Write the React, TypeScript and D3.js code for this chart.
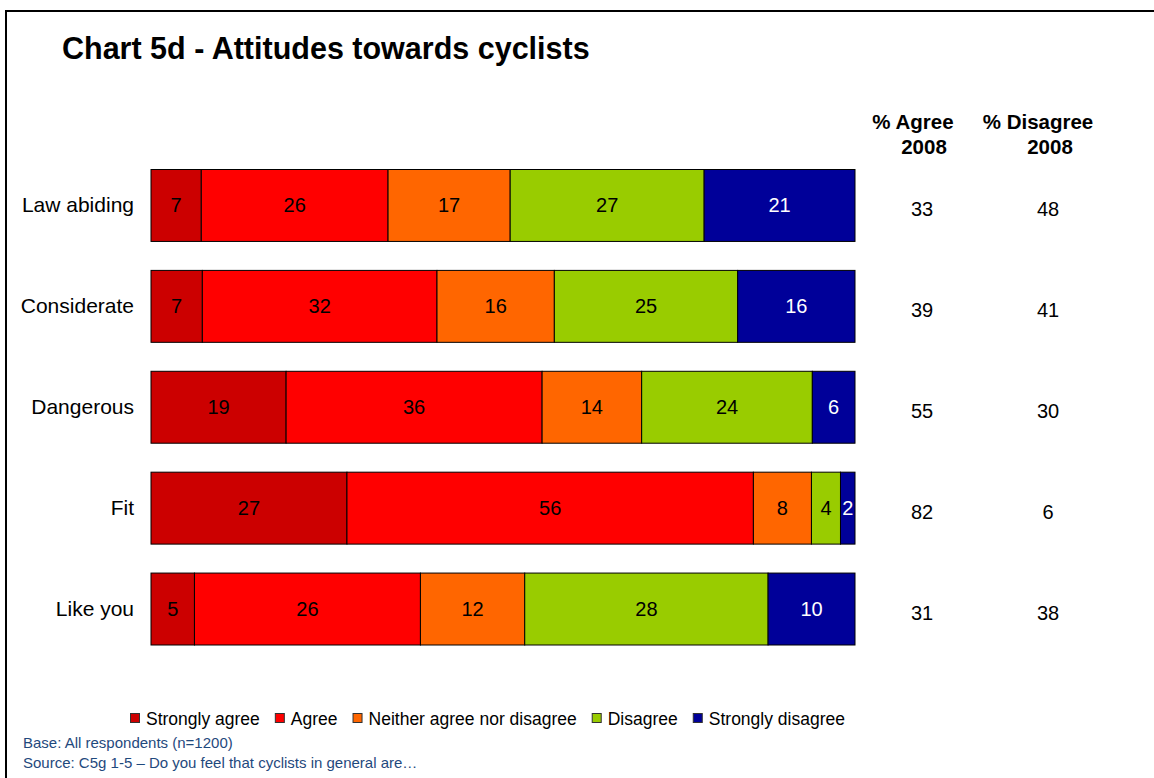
import React, { useEffect, useRef } from "react";
import * as d3 from "d3";

const categories = ["Law abiding", "Considerate", "Dangerous", "Fit", "Like you"];
const seriesNames = ["Strongly agree", "Agree", "Neither agree nor disagree", "Disagree", "Strongly disagree"];
const seriesColors = ["#CC0000", "#FF0000", "#FF6600", "#99CC00", "#000099"];
const labelColors = ["#000", "#000", "#000", "#000", "#fff"];
const stronglyAgree = [7, 7, 19, 27, 5];
const agree = [26, 32, 36, 56, 26];
const neither = [17, 16, 14, 8, 12];
const disagree = [27, 25, 24, 4, 28];
const stronglyDisagree = [21, 16, 6, 2, 10];
const agree2008 = [33, 39, 55, 82, 31];
const disagree2008 = [48, 41, 30, 6, 38];

const W = 1154;
const H = 778;
const FONT = "Liberation Sans, Arial, sans-serif";

export default function App() {
  const ref = useRef<SVGSVGElement | null>(null);

  useEffect(() => {
    const svg = d3.select(ref.current);
    svg.selectAll("*").remove();

    // frame
    svg.append("path")
      .attr("d", `M6,${H} L6,11 L${W},11`)
      .attr("fill", "none")
      .attr("stroke", "#000")
      .attr("stroke-width", 2);

    svg.append("text")
      .attr("x", 62).attr("y", 59)
      .attr("font-family", FONT).attr("font-size", 30.5).attr("font-weight", "bold")
      .attr("fill", "#000")
      .text("Chart 5d - Attitudes towards cyclists");

    const series = [stronglyAgree, agree, neither, disagree, stronglyDisagree];

    const y = d3.scaleBand<string>().domain(categories).range([169.5, 645]).paddingInner(0.287).paddingOuter(0);
    const x = d3.scaleLinear().domain([0, 1]).range([151, 855]);

    categories.forEach((cat, i) => {
      const vals = series.map((s) => s[i]);
      const total = d3.sum(vals);
      let cum = 0;
      const g = svg.append("g");
      const yy = y(cat)!;
      const bw = y.bandwidth();
      vals.forEach((v, k) => {
        const x0 = x(cum / total);
        const x1 = x((cum + v) / total);
        cum += v;
        g.append("rect")
          .attr("x", x0).attr("y", yy)
          .attr("width", x1 - x0).attr("height", bw)
          .attr("fill", seriesColors[k])
          .attr("stroke", "#000").attr("stroke-width", 1);
        g.append("text")
          .attr("x", (x0 + x1) / 2).attr("y", yy + bw / 2 + 7)
          .attr("text-anchor", "middle")
          .attr("font-family", FONT).attr("font-size", 20)
          .attr("fill", labelColors[k])
          .text(String(v));
      });
      svg.append("text")
        .attr("x", 134).attr("y", yy + bw / 2 + 7)
        .attr("text-anchor", "end")
        .attr("font-family", FONT).attr("font-size", 21)
        .attr("fill", "#000")
        .text(cat);
      svg.append("text")
        .attr("x", 922).attr("y", yy + bw / 2 + 11)
        .attr("text-anchor", "middle")
        .attr("font-family", FONT).attr("font-size", 20)
        .attr("fill", "#000")
        .text(String(agree2008[i]));
      svg.append("text")
        .attr("x", 1048).attr("y", yy + bw / 2 + 11)
        .attr("text-anchor", "middle")
        .attr("font-family", FONT).attr("font-size", 20)
        .attr("fill", "#000")
        .text(String(disagree2008[i]));
    });

    // column headers
    const headers: [string, number, number][] = [
      ["% Agree", 913, 129],
      ["2008", 924, 154],
      ["% Disagree", 1038, 129],
      ["2008", 1050, 154],
    ];
    headers.forEach(([t, hx, hy]) => {
      svg.append("text")
        .attr("x", hx).attr("y", hy)
        .attr("text-anchor", "middle")
        .attr("font-family", FONT).attr("font-size", 20.5).attr("font-weight", "bold")
        .attr("fill", "#000")
        .text(t);
    });

    // legend
    let lx = 130;
    seriesNames.forEach((name, k) => {
      svg.append("rect")
        .attr("x", lx + 0.5).attr("y", 713.5)
        .attr("width", 9).attr("height", 9)
        .attr("fill", seriesColors[k])
        .attr("stroke", "#333").attr("stroke-width", 1);
      const t = svg.append("text")
        .attr("x", lx + 16).attr("y", 725)
        .attr("font-family", FONT).attr("font-size", 17.5)
        .attr("fill", "#000")
        .text(name);
      const w = (t.node() as SVGTextElement).getComputedTextLength();
      lx = lx + 16 + w + 15;
    });

    // footnotes
    svg.append("text")
      .attr("x", 23).attr("y", 748)
      .attr("font-family", FONT).attr("font-size", 15)
      .attr("fill", "#1F497D")
      .text("Base: All respondents (n=1200)");
    svg.append("text")
      .attr("x", 23).attr("y", 768)
      .attr("font-family", FONT).attr("font-size", 15)
      .attr("fill", "#1F497D")
      .text("Source: C5g 1-5 \u2013 Do you feel that cyclists in general are\u2026");
  }, []);

  return (
    <svg
      ref={ref}
      width={W}
      height={H}
      style={{ position: "absolute", left: 0, top: 0, background: "#fff" }}
    />
  );
}
